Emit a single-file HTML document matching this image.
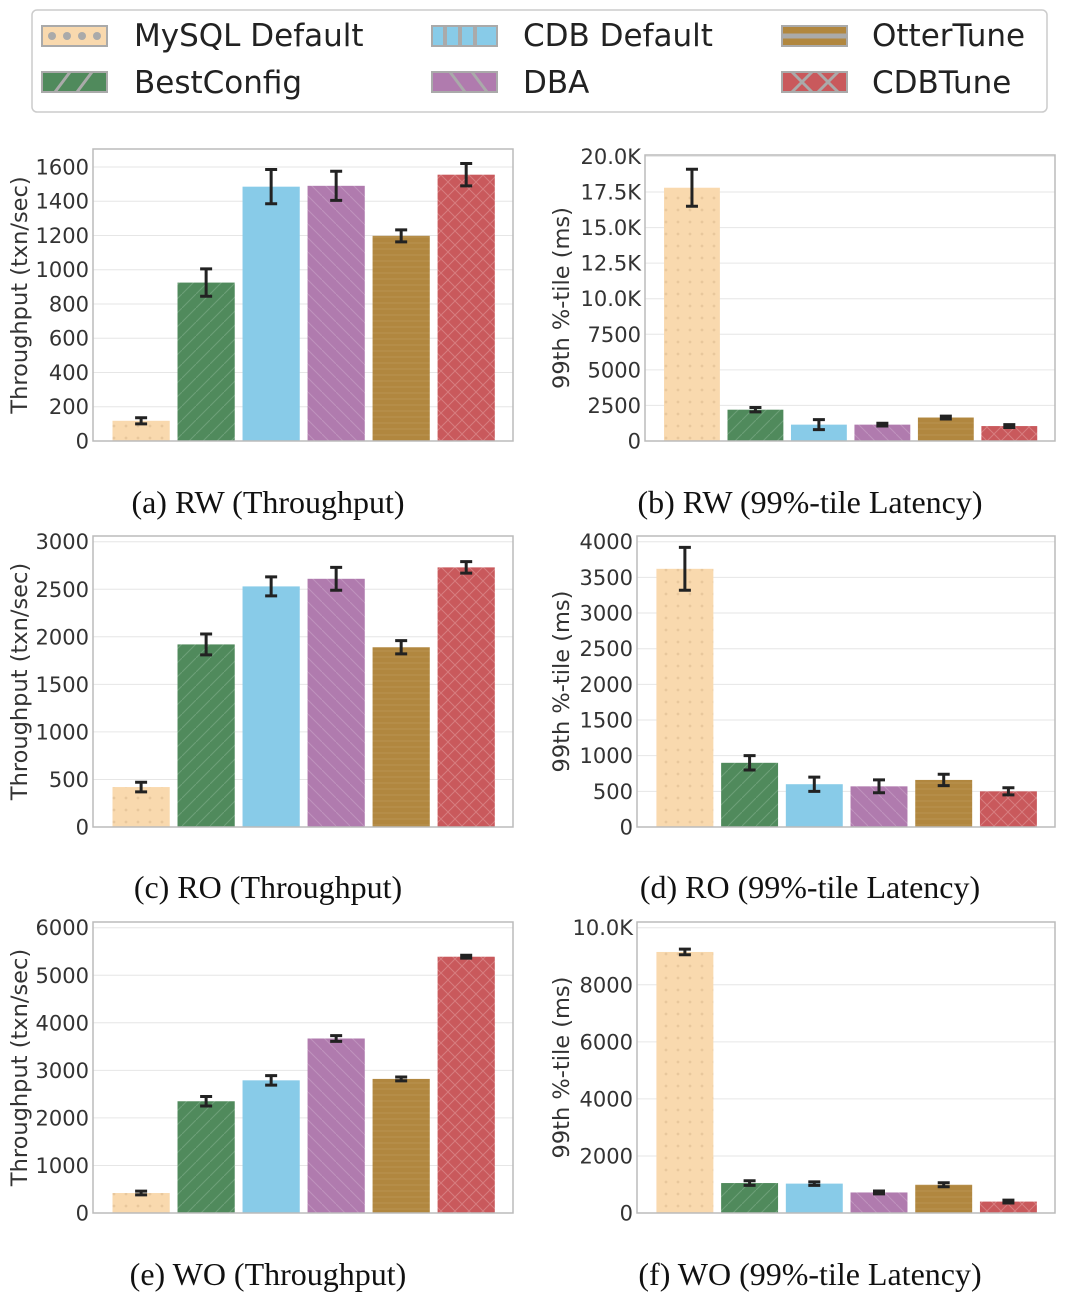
<!DOCTYPE html>
<html><head><meta charset="utf-8">
<style>
body{margin:0;background:#fff;width:1072px;height:1306px;overflow:hidden;font-family:"DejaVu Sans","Liberation Sans",sans-serif;}
svg{position:absolute;left:0;top:0}
</style></head>
<body>
<svg id="chart" width="1072" height="1306" viewBox="0 0 1072 1306" xmlns="http://www.w3.org/2000/svg">
<defs>
<pattern id="p0" width="12" height="12" patternUnits="userSpaceOnUse"><rect width="12" height="12" fill="#f9d9ae"/><circle cx="6" cy="6" r="1.4" fill="#e8c79c"/></pattern>
<pattern id="p1" width="14" height="14" patternUnits="userSpaceOnUse"><rect width="14" height="14" fill="#508a5c"/><path d="M0 14 L14 0" stroke="#6da078" stroke-width="1"/></pattern>
<pattern id="p2" width="10" height="10" patternUnits="userSpaceOnUse"><rect width="10" height="10" fill="#88cbe8"/></pattern>
<pattern id="p3" width="14" height="14" patternUnits="userSpaceOnUse"><rect width="14" height="14" fill="#b07bae"/><path d="M0 0 L14 14" stroke="#bf93bd" stroke-width="1"/></pattern>
<pattern id="p4" width="10" height="6" patternUnits="userSpaceOnUse"><rect width="10" height="6" fill="#b1873f"/><path d="M0 3 L10 3" stroke="#b99352" stroke-width="1"/></pattern>
<pattern id="p5" width="14" height="14" patternUnits="userSpaceOnUse"><rect width="14" height="14" fill="#c9595c"/><path d="M0 0 L14 14 M0 14 L14 0" stroke="#d77d7f" stroke-width="1"/></pattern>
</defs>
<g>
<rect x="32" y="10" width="1015" height="102" rx="5" fill="#fff" stroke="#ccc" stroke-width="1.5"/>
<rect x="42" y="26" width="65" height="20" fill="#f9d9ae" stroke="#aaa" stroke-width="2"/>
<g fill="#aaa"><circle cx="52" cy="36" r="4"/><circle cx="67" cy="36" r="4"/><circle cx="82" cy="36" r="4"/><circle cx="97" cy="36" r="4"/></g>
<text x="134" y="46" font-size="31" fill="#222">MySQL Default</text>
<rect x="42" y="72" width="65" height="20" fill="#508a5c" stroke="#aaa" stroke-width="2"/>
<path d="M55 92 L70 72 M77 92 L92 72" stroke="#aaa" stroke-width="3"/>
<text x="134" y="93" font-size="31" fill="#222">BestConfig</text>
<rect x="432" y="26" width="65" height="20" fill="#88cbe8" stroke="#aaa" stroke-width="2"/>
<path d="M445 26 V46 M460 26 V46 M475 26 V46" stroke="#aaa" stroke-width="4"/>
<text x="523" y="46" font-size="31" fill="#222">CDB Default</text>
<rect x="432" y="72" width="65" height="20" fill="#b07bae" stroke="#aaa" stroke-width="2"/>
<path d="M450 72 L465 92 M472 72 L487 92" stroke="#aaa" stroke-width="3"/>
<text x="523" y="93" font-size="31" fill="#222">DBA</text>
<rect x="782" y="26" width="65" height="20" fill="#b1873f" stroke="#aaa" stroke-width="2"/>
<path d="M782 36 H847" stroke="#aaa" stroke-width="5"/>
<text x="872" y="46" font-size="31" fill="#222">OtterTune</text>
<rect x="782" y="72" width="65" height="20" fill="#c9595c" stroke="#aaa" stroke-width="2"/>
<path d="M792 72 L812 92 M812 72 L792 92 M818 72 L838 92 M838 72 L818 92" stroke="#aaa" stroke-width="3"/>
<text x="872" y="93" font-size="31" fill="#222">CDBTune</text>
</g>
<g id="panels"></g>
</svg>
<script>
const categories = ["MySQL Default","BestConfig","CDB Default","DBA","OtterTune","CDBTune"];
const valsA = [118, 925, 1485, 1490, 1198, 1555];
const errA  = [18, 80, 100, 85, 35, 65];
const valsB = [17800, 2200, 1150, 1150, 1650, 1050];
const errB  = [1300, 150, 350, 100, 100, 100];
const valsC = [420, 1920, 2530, 2610, 1890, 2730];
const errC  = [50, 110, 100, 120, 70, 60];
const valsD = [3620, 900, 600, 570, 660, 500];
const errD  = [300, 100, 100, 90, 80, 50];
const valsE = [420, 2350, 2790, 3670, 2820, 5390];
const errE  = [40, 100, 100, 60, 40, 30];
const valsF = [9150, 1050, 1030, 720, 990, 400];
const errF  = [100, 80, 60, 50, 70, 50];
const ticksA = [0,200,400,600,800,1000,1200,1400,1600];
const ticksB = [0,2500,5000,7500,10000,12500,15000,17500,20000];
const labelsB = ["0","2500","5000","7500","10.0K","12.5K","15.0K","17.5K","20.0K"];
const ticksC = [0,500,1000,1500,2000,2500,3000];
const ticksD = [0,500,1000,1500,2000,2500,3000,3500,4000];
const ticksE = [0,1000,2000,3000,4000,5000,6000];
const ticksF = [0,2000,4000,6000,8000,10000];
const labelsF = ["0","2000","4000","6000","8000","10.0K"];
const captions = ["(a)  RW (Throughput)","(b)  RW (99%-tile Latency)","(c)  RO (Throughput)","(d)  RO (99%-tile Latency)","(e)  WO (Throughput)","(f)  WO (99%-tile Latency)"];

const NS="http://www.w3.org/2000/svg";
const root=document.getElementById('panels');
function mk(tag,attrs,parent){const e=document.createElementNS(NS,tag);for(const k in attrs)e.setAttribute(k,attrs[k]);parent.appendChild(e);return e;}

const panels=[
 {id:"a",vals:valsA,errs:errA,ticks:ticksA,labels:null,ymax:1705,L:93,R:513,T:149,B:441,title:"Throughput (txn/sec)",tx:20,cap:captions[0],cx:268},
 {id:"b",vals:valsB,errs:errB,ticks:ticksB,labels:labelsB,ymax:20100,L:645,R:1055,T:155,B:441,title:"99th %-tile (ms)",tx:562,cap:captions[1],cx:810},
 {id:"c",vals:valsC,errs:errC,ticks:ticksC,labels:null,ymax:3060,L:93,R:513,T:536,B:827,title:"Throughput (txn/sec)",tx:20,cap:captions[2],cx:268},
 {id:"d",vals:valsD,errs:errD,ticks:ticksD,labels:null,ymax:4080,L:637,R:1055,T:536,B:827,title:"99th %-tile (ms)",tx:562,cap:captions[3],cx:810},
 {id:"e",vals:valsE,errs:errE,ticks:ticksE,labels:null,ymax:6120,L:93,R:513,T:922,B:1213,title:"Throughput (txn/sec)",tx:20,cap:captions[4],cx:268},
 {id:"f",vals:valsF,errs:errF,ticks:ticksF,labels:labelsF,ymax:10200,L:637,R:1055,T:922,B:1213,title:"99th %-tile (ms)",tx:562,cap:captions[5],cx:810}
];
const capY=[513,513,898,898,1285,1285];

panels.forEach((p,pi)=>{
  const g=mk('g',{},root);
  
  
  const y=v=>p.B-(v/p.ymax)*(p.B-p.T);
  const unit=(p.R-p.L)/6.46;
  const x=i=>p.L+(i+0.74)*unit;
  p.ticks.forEach((t,ti)=>{
    const gl=mk('line',{x1:p.L,x2:p.R,y1:y(t),y2:y(t),stroke:'#e6e6e6','stroke-width':1},g);
    
    
    const tl=mk('text',{x:p.L-4,y:y(t)+7.5,'text-anchor':'end','font-size':21,fill:'#333'},g);
    
    
    tl.textContent=p.labels?p.labels[ti]:String(t);
  });
  p.vals.forEach((v,i)=>{
    const w=0.88*unit;
    const r=mk('rect',{x:x(i)-w/2,y:y(v),width:w,height:p.B-y(v),fill:'url(#p'+i+')'},g);
    
    
    const e=p.errs[i];
    const eb=mk('path',{d:`M${x(i)} ${y(v+e)} V${y(v-e)} M${x(i)-6} ${y(v+e)} H${x(i)+6} M${x(i)-6} ${y(v-e)} H${x(i)+6}`,stroke:'#222','stroke-width':3,fill:'none'},g);
    
    
  });
  const fr=mk('rect',{x:p.L,y:p.T,width:p.R-p.L,height:p.B-p.T,fill:'none',stroke:'#bbb','stroke-width':1.5},g);
  
  
  const cy=(p.T+p.B)/2;
  const yt=mk('text',{x:p.tx,y:cy,'text-anchor':'middle','font-size':22.5,fill:'#333',transform:`rotate(-90 ${p.tx} ${cy})`,'dominant-baseline':'central'},g);
  
  
  yt.textContent=p.title;
  const cp=mk('text',{x:p.cx,y:capY[pi],'text-anchor':'middle','font-size':32,fill:'#111','font-family':'"Liberation Serif",serif'},g);
  
  
  cp.setAttribute('xml:space','preserve');
  cp.textContent=p.cap;
});
</script>
</body></html>
